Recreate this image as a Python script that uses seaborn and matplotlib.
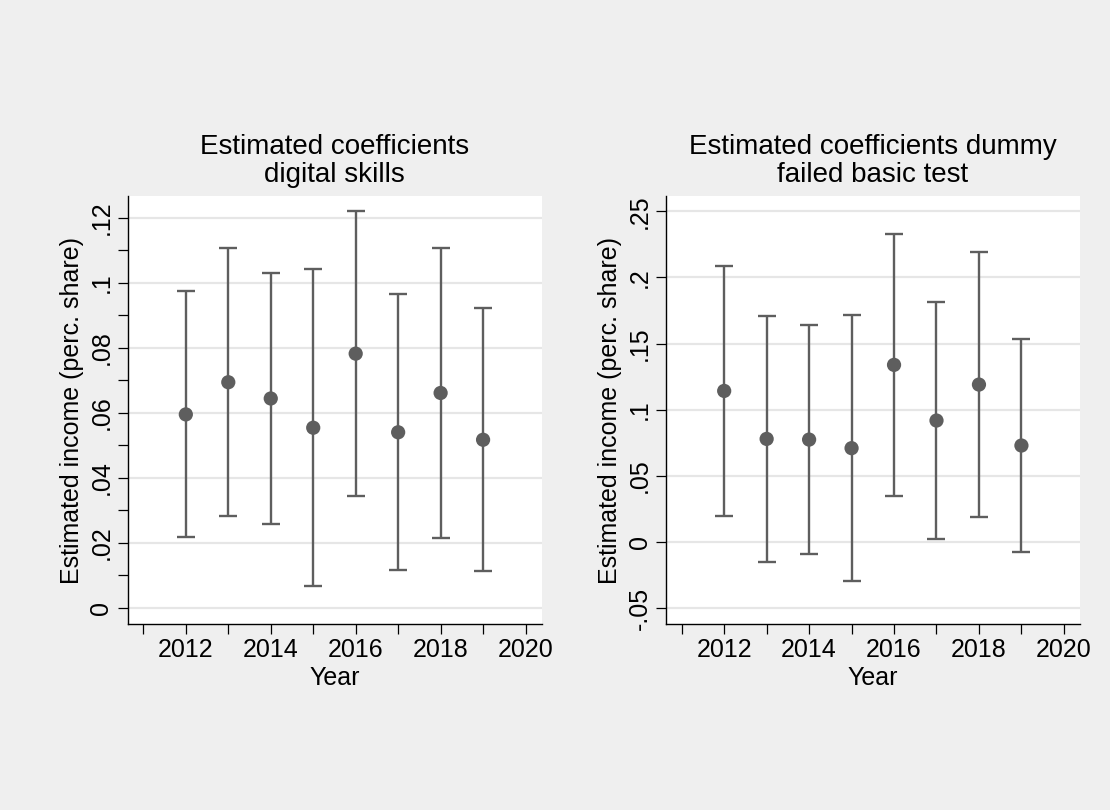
import numpy as np
import pandas as pd
import matplotlib
matplotlib.use("Agg")
import matplotlib.pyplot as plt
import seaborn as sns
from matplotlib.ticker import FixedLocator, FixedFormatter

# ---- data ----
years = [2012, 2013, 2014, 2015, 2016, 2017, 2018, 2019]

digital_est = [0.0595, 0.0694, 0.0644, 0.0554, 0.0782, 0.0540, 0.0661, 0.0517]
digital_lo = [0.0218, 0.0282, 0.0258, 0.0068, 0.0345, 0.0116, 0.0214, 0.0114]
digital_hi = [0.0974, 0.1106, 0.1030, 0.1043, 0.1220, 0.0964, 0.1108, 0.0921]

failed_est = [0.1142, 0.0779, 0.0774, 0.0709, 0.1339, 0.0918, 0.1190, 0.0729]
failed_lo = [0.0194, -0.0154, -0.0091, -0.0293, 0.0350, 0.0020, 0.0187, -0.0078]
failed_hi = [0.2088, 0.1710, 0.1639, 0.1715, 0.2330, 0.1813, 0.2196, 0.1536]

x_ticks = [2011, 2012, 2013, 2014, 2015, 2016, 2017, 2018, 2019, 2020]
x_ticklabels = ["", "2012", "", "2014", "", "2016", "", "2018", "", "2020"]

left_yticks = [0, 0.02, 0.04, 0.06, 0.08, 0.10, 0.12]
left_yticklabels = ["0", ".02", ".04", ".06", ".08", ".1", ".12"]
left_yminor = [0.01, 0.03, 0.05, 0.07, 0.09, 0.11]

right_yticks = [-0.05, 0, 0.05, 0.10, 0.15, 0.20, 0.25]
right_yticklabels = ["-.05", "0", ".05", ".1", ".15", ".2", ".25"]

titles = ["Estimated coefficients\ndigital skills",
          "Estimated coefficients dummy\nfailed basic test"]
ylabel = "Estimated income (perc. share)"
xlabel = "Year"

# ---- style ----
sns.set_theme(style="white")
plt.rcParams["font.family"] = ["Liberation Sans", "DejaVu Sans"]

BG = "#efefef"
MARK = "#5e5e5e"
GRID = "#e6e6e6"
AXC = "#000000"

fig = plt.figure(figsize=(11.1, 8.1), dpi=100, facecolor=BG)

panels = [
    dict(pos=[0.1150, 0.2296, 0.3730, 0.5284], est=digital_est, lo=digital_lo, hi=digital_hi,
         ylim=(-0.005, 0.1267), yt=left_yticks, ytl=left_yticklabels, ymin=left_yminor,
         title=titles[0]),
    dict(pos=[0.6000, 0.2296, 0.3730, 0.5284], est=failed_est, lo=failed_lo, hi=failed_hi,
         ylim=(-0.0621, 0.2616), yt=right_yticks, ytl=right_yticklabels, ymin=[],
         title=titles[1]),
]

for p in panels:
    ax = fig.add_axes(p["pos"])
    ax.set_facecolor("white")
    df = pd.DataFrame({"year": years, "est": p["est"], "lo": p["lo"], "hi": p["hi"]})
    for yv in p["yt"]:
        ax.axhline(yv, color=GRID, lw=1.6, zorder=0)
    err = np.vstack([df["est"] - df["lo"], df["hi"] - df["est"]])
    ax.errorbar(df["year"], df["est"], yerr=err, fmt="none", ecolor=MARK,
                elinewidth=1.7, capsize=6.5, capthick=1.7, zorder=2)
    sns.scatterplot(data=df, x="year", y="est", ax=ax, color=MARK, s=105,
                    edgecolor="none", zorder=3, legend=False)
    ax.set_xlim(2010.63, 2020.38)
    ax.set_ylim(*p["ylim"])
    ax.xaxis.set_major_locator(FixedLocator(x_ticks))
    ax.xaxis.set_major_formatter(FixedFormatter(x_ticklabels))
    ax.yaxis.set_major_locator(FixedLocator(p["yt"]))
    ax.yaxis.set_major_formatter(FixedFormatter(p["ytl"]))
    if p["ymin"]:
        ax.yaxis.set_minor_locator(FixedLocator(p["ymin"]))
    ax.tick_params(axis="both", which="both", direction="out", length=7.3, width=0.9,
                   color=AXC, labelsize=18, labelcolor="black", bottom=True, left=True)
    ax.tick_params(axis="x", pad=3)
    ax.tick_params(axis="y", pad=3, labelrotation=90)
    for lab in ax.get_yticklabels():
        lab.set_va("center")
    for s in ["top", "right"]:
        ax.spines[s].set_visible(False)
    for s in ["left", "bottom"]:
        ax.spines[s].set_color(AXC)
        ax.spines[s].set_linewidth(1.0)
    ax.set_xlabel(xlabel, fontsize=18, labelpad=3, color="black")
    ax.set_ylabel(ylabel, fontsize=18, labelpad=4, color="black")
    ax.set_title(p["title"], fontsize=20, pad=10, linespacing=1.1, color="black")

fig.savefig("out.png", dpi=100, facecolor=BG)
